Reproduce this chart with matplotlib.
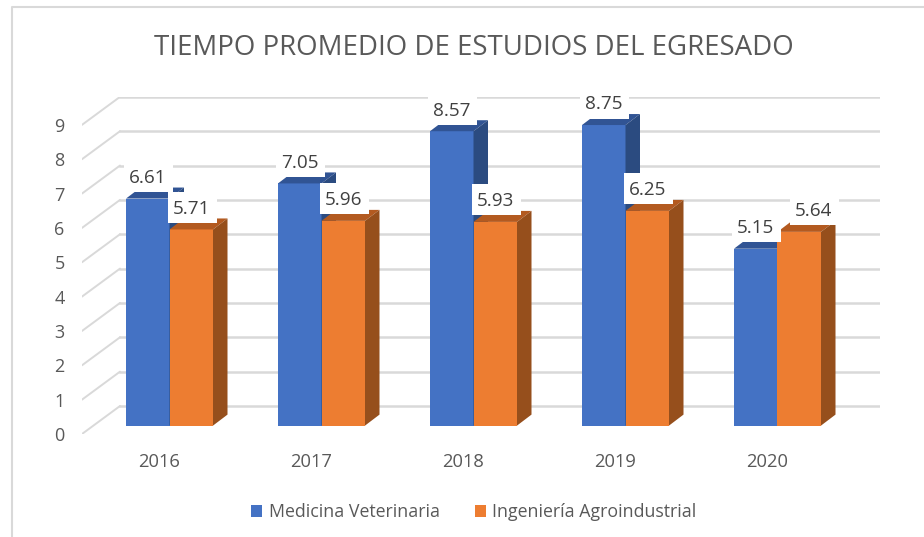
import matplotlib.pyplot as plt
from matplotlib.lines import Line2D
from matplotlib.patches import Patch, Rectangle
import numpy as np

years = ['2016', '2017', '2018', '2019', '2020']
medicina = [6.61, 7.05, 8.57, 8.75, 5.15]
ingenieria = [5.71, 5.96, 5.93, 6.25, 5.64]
levels = np.arange(0, 10)

W, H = 924, 537
px_x = 152.0    # pixels per category
px_y = 34.35    # pixels per unit
bar_w = 43.5 / px_x
depth_x = 14.5 / px_x
depth_y = 11 / px_y
wall_x = 38 / px_x
wall_y = 28 / px_y

gray = '#595959'
grid = '#d9d9d9'
plt.rcParams['font.family'] = ['Open Sans', 'DejaVu Sans']

fig = plt.figure(figsize=(W / 100, H / 100), dpi=100)
left, right, top, bottom = 82, 880, 97, 434
ax = fig.add_axes([left / W, 1 - bottom / H, (right - left) / W, (bottom - top) / H])
ax.set_xlim((left - 169.5) / px_x, (right - 169.5) / px_x)
ax.set_ylim((425.6 - bottom) / px_y, (425.6 - top) / px_y)
for s in ax.spines.values():
    s.set_visible(False)

# walls
y_front = ax.get_ylim()[0]
x_front = ax.get_xlim()[0]
for v in levels:
    ax.plot([x_front, x_front + wall_x], [y_front + v, y_front + v + wall_y],
            color=grid, lw=1.4, zorder=1, solid_capstyle='round')
    ax.plot([x_front + wall_x, ax.get_xlim()[1]], [y_front + v + wall_y] * 2,
            color=grid, lw=1.8, zorder=1)


def bars_3d(xs, vals, front, topc, side):
    ax.bar(xs, vals, bar_w, color=front, lw=0, zorder=3)
    for x, v in zip(xs, vals):
        x0, x1 = x - bar_w / 2, x + bar_w / 2
        ax.fill([x0, x1, x1 + depth_x, x0 + depth_x], [v, v, v + depth_y, v + depth_y],
                color=topc, lw=0, zorder=3)
        ax.fill([x1, x1 + depth_x, x1 + depth_x, x1], [0, depth_y, v + depth_y, v],
                color=side, lw=0, zorder=3)


groups = np.arange(len(years))
bars_3d(groups - bar_w / 2, medicina, '#4472c4', '#315494', '#2b4b80')
bars_3d(groups + bar_w / 2, ingenieria, '#ed7d31', '#b35a20', '#964f1c')


# white label box sits just above the bar top, later boxes cover earlier ones
def label(x, v, dx=0):
    box_w, box_h = 49 / px_x, 31 / px_y
    cx = x + (dx / 0.72 + 1) / px_x
    ax.add_patch(Rectangle((cx - box_w / 2, v + 6.5 / px_y), box_w, box_h,
                           fc='white', ec='none', zorder=5))
    ax.annotate(f'{v:.2f}', (x, v), xytext=(dx, 14.8), textcoords='offset points',
                ha='center', va='center', fontsize=13.6, color='#404040', zorder=5)


for i in range(len(years)):
    label(groups[i] - bar_w / 2, medicina[i])
    label(groups[i] + bar_w / 2, ingenieria[i], dx=10 if i == 4 else 0)

ax.set_yticks(y_front + levels, [str(v) for v in levels])
ax.set_xticks(groups - 10.5 / px_x, years)
ax.tick_params(axis='y', length=0, pad=12.5, labelsize=13, labelcolor=gray)
ax.tick_params(axis='x', length=0, pad=14, labelsize=13.2, labelcolor=gray)

fig.text(473.5 / W, 1 - 48 / H, 'TIEMPO PROMEDIO DE ESTUDIOS DEL EGRESADO',
         ha='center', va='center', fontsize=19.9, color=gray)

handles = [Patch(color='#4472c4', lw=0), Patch(color='#ed7d31', lw=0)]
fig.legend(handles, ['Medicina Veterinaria', 'Ingeniería Agroindustrial'],
           loc='center', bbox_to_anchor=(474 / W, 1 - 512 / H), ncol=2, frameon=False,
           fontsize=12.8, labelcolor=gray, handlelength=0.62, handleheight=0.62,
           handletextpad=0.35, columnspacing=2.0)

# chart frame, only top and left are in the crop
fig.add_artist(Line2D([1, 12 / W, 12 / W], [1 - 6.5 / H, 1 - 6.5 / H, 0], color=grid, lw=1.5))

fig.savefig('out.png', dpi=100)
